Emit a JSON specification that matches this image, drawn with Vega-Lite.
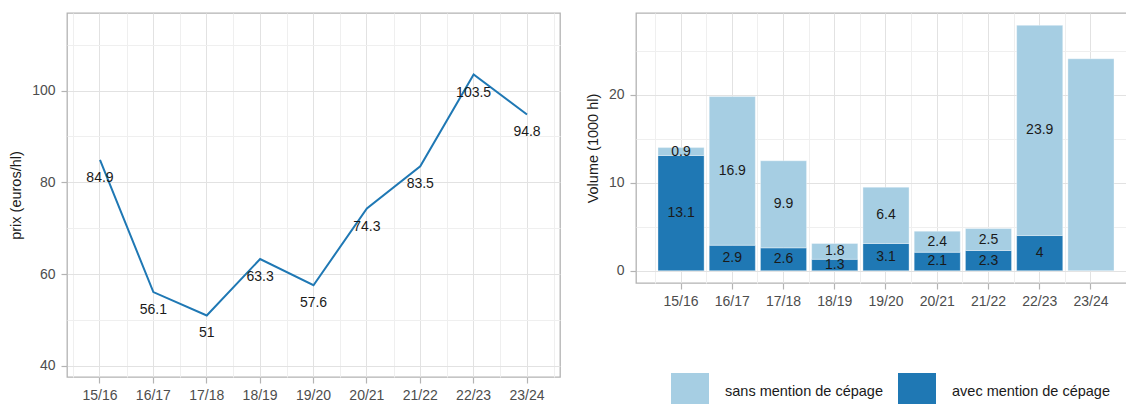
{
  "$schema": "https://vega.github.io/schema/vega-lite/v6.json",
  "padding": {"left": 7, "top": 12, "right": 0, "bottom": 0},
  "spacing": 23,
  "config": {
    "font": "Liberation Sans",
    "view": {"stroke": "#b3b3b3", "strokeWidth": 1.3},
    "axis": {
      "labelFont": "Liberation Sans", "labelFontSize": 14, "labelColor": "#4d4d4d",
      "titleFont": "Liberation Sans", "titleFontSize": 14.5, "titleFontWeight": "normal", "titleColor": "#1a1a1a",
      "tickColor": "#b3b3b3", "tickSize": 6, "tickWidth": 1.2, "labelPadding": 5, "domain": false,
      "gridColor": "#e2e2e2", "gridWidth": 1, "labelFlush": false
    },
    "text": {"font": "Liberation Sans", "fontSize": 14, "color": "#1a1a1a"}
  },
  "hconcat": [
    {
      "width": 493,
      "height": 364,
      "data": {"values": [
        {"saison": "15/16", "prix": 84.9},
        {"saison": "16/17", "prix": 56.1},
        {"saison": "17/18", "prix": 51},
        {"saison": "18/19", "prix": 63.3},
        {"saison": "19/20", "prix": 57.6},
        {"saison": "20/21", "prix": 74.3},
        {"saison": "21/22", "prix": 83.5},
        {"saison": "22/23", "prix": 103.5},
        {"saison": "23/24", "prix": 94.8}
      ]},
      "layer": [
        {
          "mark": {"type": "line", "color": "#1f78b4", "strokeWidth": 2},
          "encoding": {
            "x": {"field": "saison", "type": "ordinal", "sort": null, "bandPosition": 0.5,
                  "scale": {"type": "band", "paddingInner": 0, "paddingOuter": 0.118},
                  "axis": {"title": null, "labelAngle": 0, "grid": true, "orient": "bottom"}},
            "y": {"field": "prix", "type": "quantitative",
                  "scale": {"domain": [37.6, 116.9], "nice": false, "zero": false},
                  "axis": {"title": "prix (euros/hl)", "values": [40, 60, 80, 100], "grid": true, "titlePadding": 8, "orient": "left", "labelPadding": 6}}
          }
        },
        {
          "mark": {"type": "text", "dy": 18},
          "encoding": {
            "x": {"field": "saison", "type": "ordinal", "sort": null, "bandPosition": 0.5,
                  "scale": {"type": "band", "paddingInner": 0, "paddingOuter": 0.118},
                  "axis": {"title": null, "labels": false, "ticks": false, "grid": true, "gridColor": "#efefef", "tickBand": "extent", "orient": "bottom"}},
            "y": {"field": "prix", "type": "quantitative",
                  "scale": {"domain": [37.6, 116.9], "nice": false, "zero": false},
                  "axis": {"title": null, "labels": false, "ticks": false, "grid": true, "gridColor": "#efefef", "values": [50, 70, 90, 110], "orient": "left"}},
            "text": {"field": "prix", "type": "quantitative"}
          }
        }
      ],
      "resolve": {"axis": {"x": "independent", "y": "independent"}}
    },
    {
      "width": 491,
      "height": 270,
      "data": {"values": [
        {"saison": "15/16", "type": "avec mention de cépage", "vol": 13.1},
        {"saison": "15/16", "type": "sans mention de cépage", "vol": 0.9},
        {"saison": "16/17", "type": "avec mention de cépage", "vol": 2.9},
        {"saison": "16/17", "type": "sans mention de cépage", "vol": 16.9},
        {"saison": "17/18", "type": "avec mention de cépage", "vol": 2.6},
        {"saison": "17/18", "type": "sans mention de cépage", "vol": 9.9},
        {"saison": "18/19", "type": "avec mention de cépage", "vol": 1.3},
        {"saison": "18/19", "type": "sans mention de cépage", "vol": 1.8},
        {"saison": "19/20", "type": "avec mention de cépage", "vol": 3.1},
        {"saison": "19/20", "type": "sans mention de cépage", "vol": 6.4},
        {"saison": "20/21", "type": "avec mention de cépage", "vol": 2.1},
        {"saison": "20/21", "type": "sans mention de cépage", "vol": 2.4},
        {"saison": "21/22", "type": "avec mention de cépage", "vol": 2.3},
        {"saison": "21/22", "type": "sans mention de cépage", "vol": 2.5},
        {"saison": "22/23", "type": "avec mention de cépage", "vol": 4},
        {"saison": "22/23", "type": "sans mention de cépage", "vol": 23.9},
        {"saison": "23/24", "type": "sans mention de cépage", "vol": 24.1}
      ]},
      "layer": [
        {
          "mark": {"type": "bar", "stroke": "#ffffff", "strokeWidth": 0.6, "strokeOpacity": 0.6},
          "encoding": {
            "x": {"field": "saison", "type": "ordinal", "sort": null,
                  "scale": {"type": "band", "paddingInner": 0.1, "paddingOuter": 0.429, "range": [0, 500]},
                  "axis": {"title": null, "labelAngle": 0, "grid": true, "orient": "bottom"}},
            "y": {"field": "vol", "type": "quantitative", "stack": "zero",
                  "scale": {"domain": [-1.395, 29.3], "nice": false, "zero": false},
                  "axis": {"title": "Volume (1000 hl)", "values": [0, 10, 20], "grid": true, "titlePadding": 8, "orient": "left", "labelPadding": 6}},
            "color": {"field": "type", "type": "nominal",
                      "scale": {"domain": ["sans mention de cépage", "avec mention de cépage"], "range": ["#a6cee3", "#1f78b4"]},
                      "legend": {"title": null, "orient": "none", "legendX": 604, "legendY": 360, "direction": "horizontal",
                                 "symbolType": "square", "symbolSize": 1444, "symbolStrokeWidth": 0, "symbolOpacity": 1,
                                 "labelFont": "Liberation Sans", "labelFontSize": 14.5, "labelColor": "#1a1a1a",
                                 "labelOffset": 16, "columnPadding": 15, "padding": 0}},
            "order": {"field": "type", "sort": "ascending"}
          }
        },
        {
          "transform": [{"filter": "datum.saison != '23/24'"}],
          "mark": {"type": "text"},
          "encoding": {
            "x": {"field": "saison", "type": "ordinal", "sort": null, "bandPosition": 0.5,
                  "scale": {"type": "band", "paddingInner": 0.1, "paddingOuter": 0.429, "range": [0, 500]},
                  "axis": {"title": null, "labels": false, "ticks": false, "grid": true, "gridColor": "#efefef", "bandPosition": -0.0556, "orient": "bottom"}},
            "y": {"field": "vol", "type": "quantitative", "stack": "zero", "bandPosition": 0.5,
                  "scale": {"domain": [-1.395, 29.3], "nice": false, "zero": false},
                  "axis": {"title": null, "labels": false, "ticks": false, "grid": true, "gridColor": "#efefef", "values": [5, 15, 25], "orient": "left"}},
            "detail": {"field": "type"},
            "order": {"field": "type", "sort": "ascending"},
            "text": {"field": "vol", "type": "quantitative"}
          }
        }
      ],
      "resolve": {"axis": {"x": "independent", "y": "independent"}}
    }
  ]
}
